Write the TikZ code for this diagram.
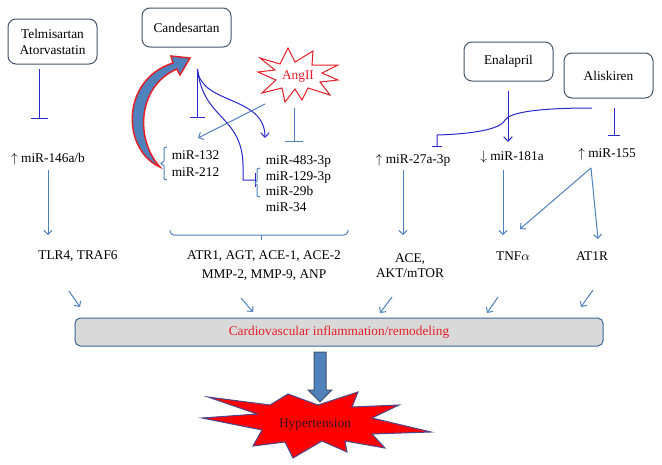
\documentclass[tikz,border=0pt]{standalone}
\usepackage{amsmath}
\usepackage{amssymb}
\usepackage{fontspec}
\setmainfont{Liberation Serif}
\usepackage{tikz}
\usetikzlibrary{arrows.meta}
\tikzset{every picture/.style={line width=0.75pt}}
\definecolor{steel}{RGB}{79,129,189}
\definecolor{drugblue}{RGB}{40,40,205}
\definecolor{boxline}{RGB}{68,84,106}
\definecolor{panelgray}{RGB}{217,217,217}
\definecolor{alarmred}{RGB}{228,30,38}
\definecolor{starline}{RGB}{80,70,140}
\tikzset{
  drug/.style={draw=boxline, rounded corners=6pt, align=center, minimum width=66.75pt},
  mirna/.style={inner sep=1pt},
  act/.style={-{Straight Barb[length=3pt,width=6pt]}, draw=steel},
  inhib/.style={-{Bar[width=#1]}},
}

\begin{document}
\begin{tikzpicture}[x=0.75pt,y=0.75pt,yscale=-1,xscale=1,font=\fontsize{10}{12}\selectfont]
%set diagram left start at 0, and has height of 465
\path[use as bounding box] (0,0) rectangle (662,465);

% Drug boxes
\node[drug, minimum height=33.75pt] (telbox) at (52.5,41.5) {Telmisartan\\Atorvastatin};
\node[drug, minimum height=29.25pt] (candbox) at (186.5,27.5) {Candesartan};
\node[drug, minimum height=29.25pt] (enabox) at (508.5,61.5) {Enalapril};
\node[drug, minimum height=33.75pt] (alibox) at (608.5,75.5) {Aliskiren};

%Shape: Star AngII
\draw[alarmred, fill=white] (258,72) -- (275,70) -- (260,58) -- (280,64) -- (288,48) -- (295,62) -- (313,51) -- (312,65) -- (338,65) -- (322,73) -- (338,80) -- (320,82) -- (330,95) -- (308,88) -- (302,100) -- (295,89) -- (285,102) -- (282,88) -- (262,93) -- (276,80) -- cycle;
\node[text=alarmred, inner sep=0pt] (angii) at (298,77) {AngII};

% miRNA nodes
\node[mirna] (mir146) at (48,159) {$\uparrow$ miR-146a/b};
\node[mirna, anchor=west, align=left, font=\fontsize{10}{12.75}\selectfont] (mir132) at (170,163.5) {miR-132\\miR-212};
\node[mirna, anchor=west, align=left, font=\fontsize{10}{11.8}\selectfont] (mir483) at (264,183.5) {miR-483-3p\\miR-129-3p\\miR-29b\\miR-34};
\node[mirna] (mir27) at (413,160) {$\uparrow$ miR-27a-3p};
\node[mirna] (mir181) at (512,157) {$\downarrow$ miR-181a};
\node[mirna] (mir155) at (607,154) {$\uparrow$ miR-155};

% Target nodes
\node (tlr) at (78,256) {TLR4, TRAF6};
\node[align=center, font=\fontsize{10}{14.25}\selectfont] (atr) at (264,265.5) {ATR1, AGT, ACE-1, ACE-2\\MMP-2, MMP-9, ANP};
\node[align=center, font=\fontsize{10}{11.25}\selectfont] (ace) at (410,265.5) {ACE,\\AKT/mTOR};
\node (tnf) at (513,256) {TNF$\alpha$};
\node (at1r) at (592,256) {AT1R};

% Outcome box
\node[draw=steel!80!black, fill=panelgray, rounded corners=4pt, minimum width=396pt, minimum height=21pt, text=alarmred] (cvbox) at (339,332) {Cardiovascular inflammation/remodeling};

%Shape: Star Hypertension
\draw[starline, fill=red] (208,397) -- (270,405) -- (288,394) -- (318,405) -- (358,392) -- (352,407) -- (399,405) -- (372,418) -- (431,432) -- (372,434) -- (385,448) -- (345,441) -- (347,452) -- (322,441) -- (293,458) -- (285,442) -- (253,446) -- (262,430) -- (202,418) -- (257,414) -- cycle;
\node[text={rgb,255:red,60;green,10;blue,30}] (hyp) at (315,425) {Hypertension};

%Shape: Block Arrow
\draw[boxline, fill=steel] (314,352) -- (326,352) -- (326,390) -- (332,390) -- (320,402) -- (308,390) -- (314,390) -- cycle;

%Shape: Curved Arrow
\draw[alarmred, line width=1.1pt, fill=steel] (160,167) .. controls (122,150) and (120,80) .. (173,63) -- (171,56) -- (190,58) -- (180,75) -- (177,69) .. controls (137,86) and (135,140) .. cycle;

% End points of connectors
\coordinate (telS) at (39.5,69);   \coordinate (telE) at (39.5,119);
\coordinate (candS) at (197.5,69); \coordinate (candE) at (197.5,118);
\coordinate (candK) at (243,180);  \coordinate (candL) at (256,180);
\coordinate (mir483in) at (265,138);
\coordinate (angS) at (294,108);   \coordinate (angE) at (294,142);
\coordinate (angT) at (265,104);   \coordinate (mir132in) at (198,138);
\coordinate (enaS) at (508,91);    \coordinate (enaE) at (508,142);
\coordinate (aliS) at (614,108);   \coordinate (aliE) at (614,136);
\coordinate (aliT) at (592,108);   \coordinate (aliK) at (437,135);
\coordinate (mir27in) at (437,147);

% Inhibition and activation by drugs
\draw[inhib=12.75pt, drugblue] (telS) -- (telE);
\draw[inhib=11pt, drugblue] (candS) -- (candE);
\draw[-{Straight Barb[length=3.5pt,width=6.5pt]}, drugblue] (candS) .. controls (200,105) and (265,95) .. (mir483in);
\draw[inhib=10.5pt, drugblue] (candS) .. controls (203,120) and (242,115) .. (243,165) -- (candK) -- (candL);
\draw[inhib=13.5pt, steel] (angS) -- (angE);
\draw[act] (angT) -- (mir132in);
\draw[-{Straight Barb[length=3.5pt,width=6.5pt]}, drugblue] (enaS) -- (enaE);
\draw[inhib=9pt, drugblue] (aliS) -- (aliE);
\draw[inhib=8pt, drugblue] (aliT) .. controls (540,108) and (510,112) .. (505,120) .. controls (500,130) and (470,134) .. (aliK) -- (mir27in);

% Brackets
\draw[steel] (167,147) -- (164,148) -- (164,161) -- (161,163.5) -- (164,166) -- (164,179) -- (167,180);
\draw[steel] (260,168) -- (257,169) -- (257,181) -- (255,183) -- (257,185) -- (257,196) -- (260,197);
\draw[steel, rounded corners=3pt] (170,230) |- (348,235) -- (348,230);
\draw[steel] (261,235) -- (261,240);

% miRNA to targets
\draw[act] (mir146.south |- 0,170) -- (mir146.south |- 0,235);
\draw[act] (403,170) -- (403,235);
\draw[act] (503,170) -- (503,235);
\draw[act] (591,168) -- (520,229);
\draw[act] (591,168) -- (598,239);

% Targets to outcome
\draw[act] (69,291) -- (80,307);
\draw[act] (241,298) -- (253,312);
\draw[act] (392,297) -- (380,313);
\draw[act] (498,297) -- (487,313);
\draw[act] (593,290) -- (581,307);

\end{tikzpicture}
\end{document}
